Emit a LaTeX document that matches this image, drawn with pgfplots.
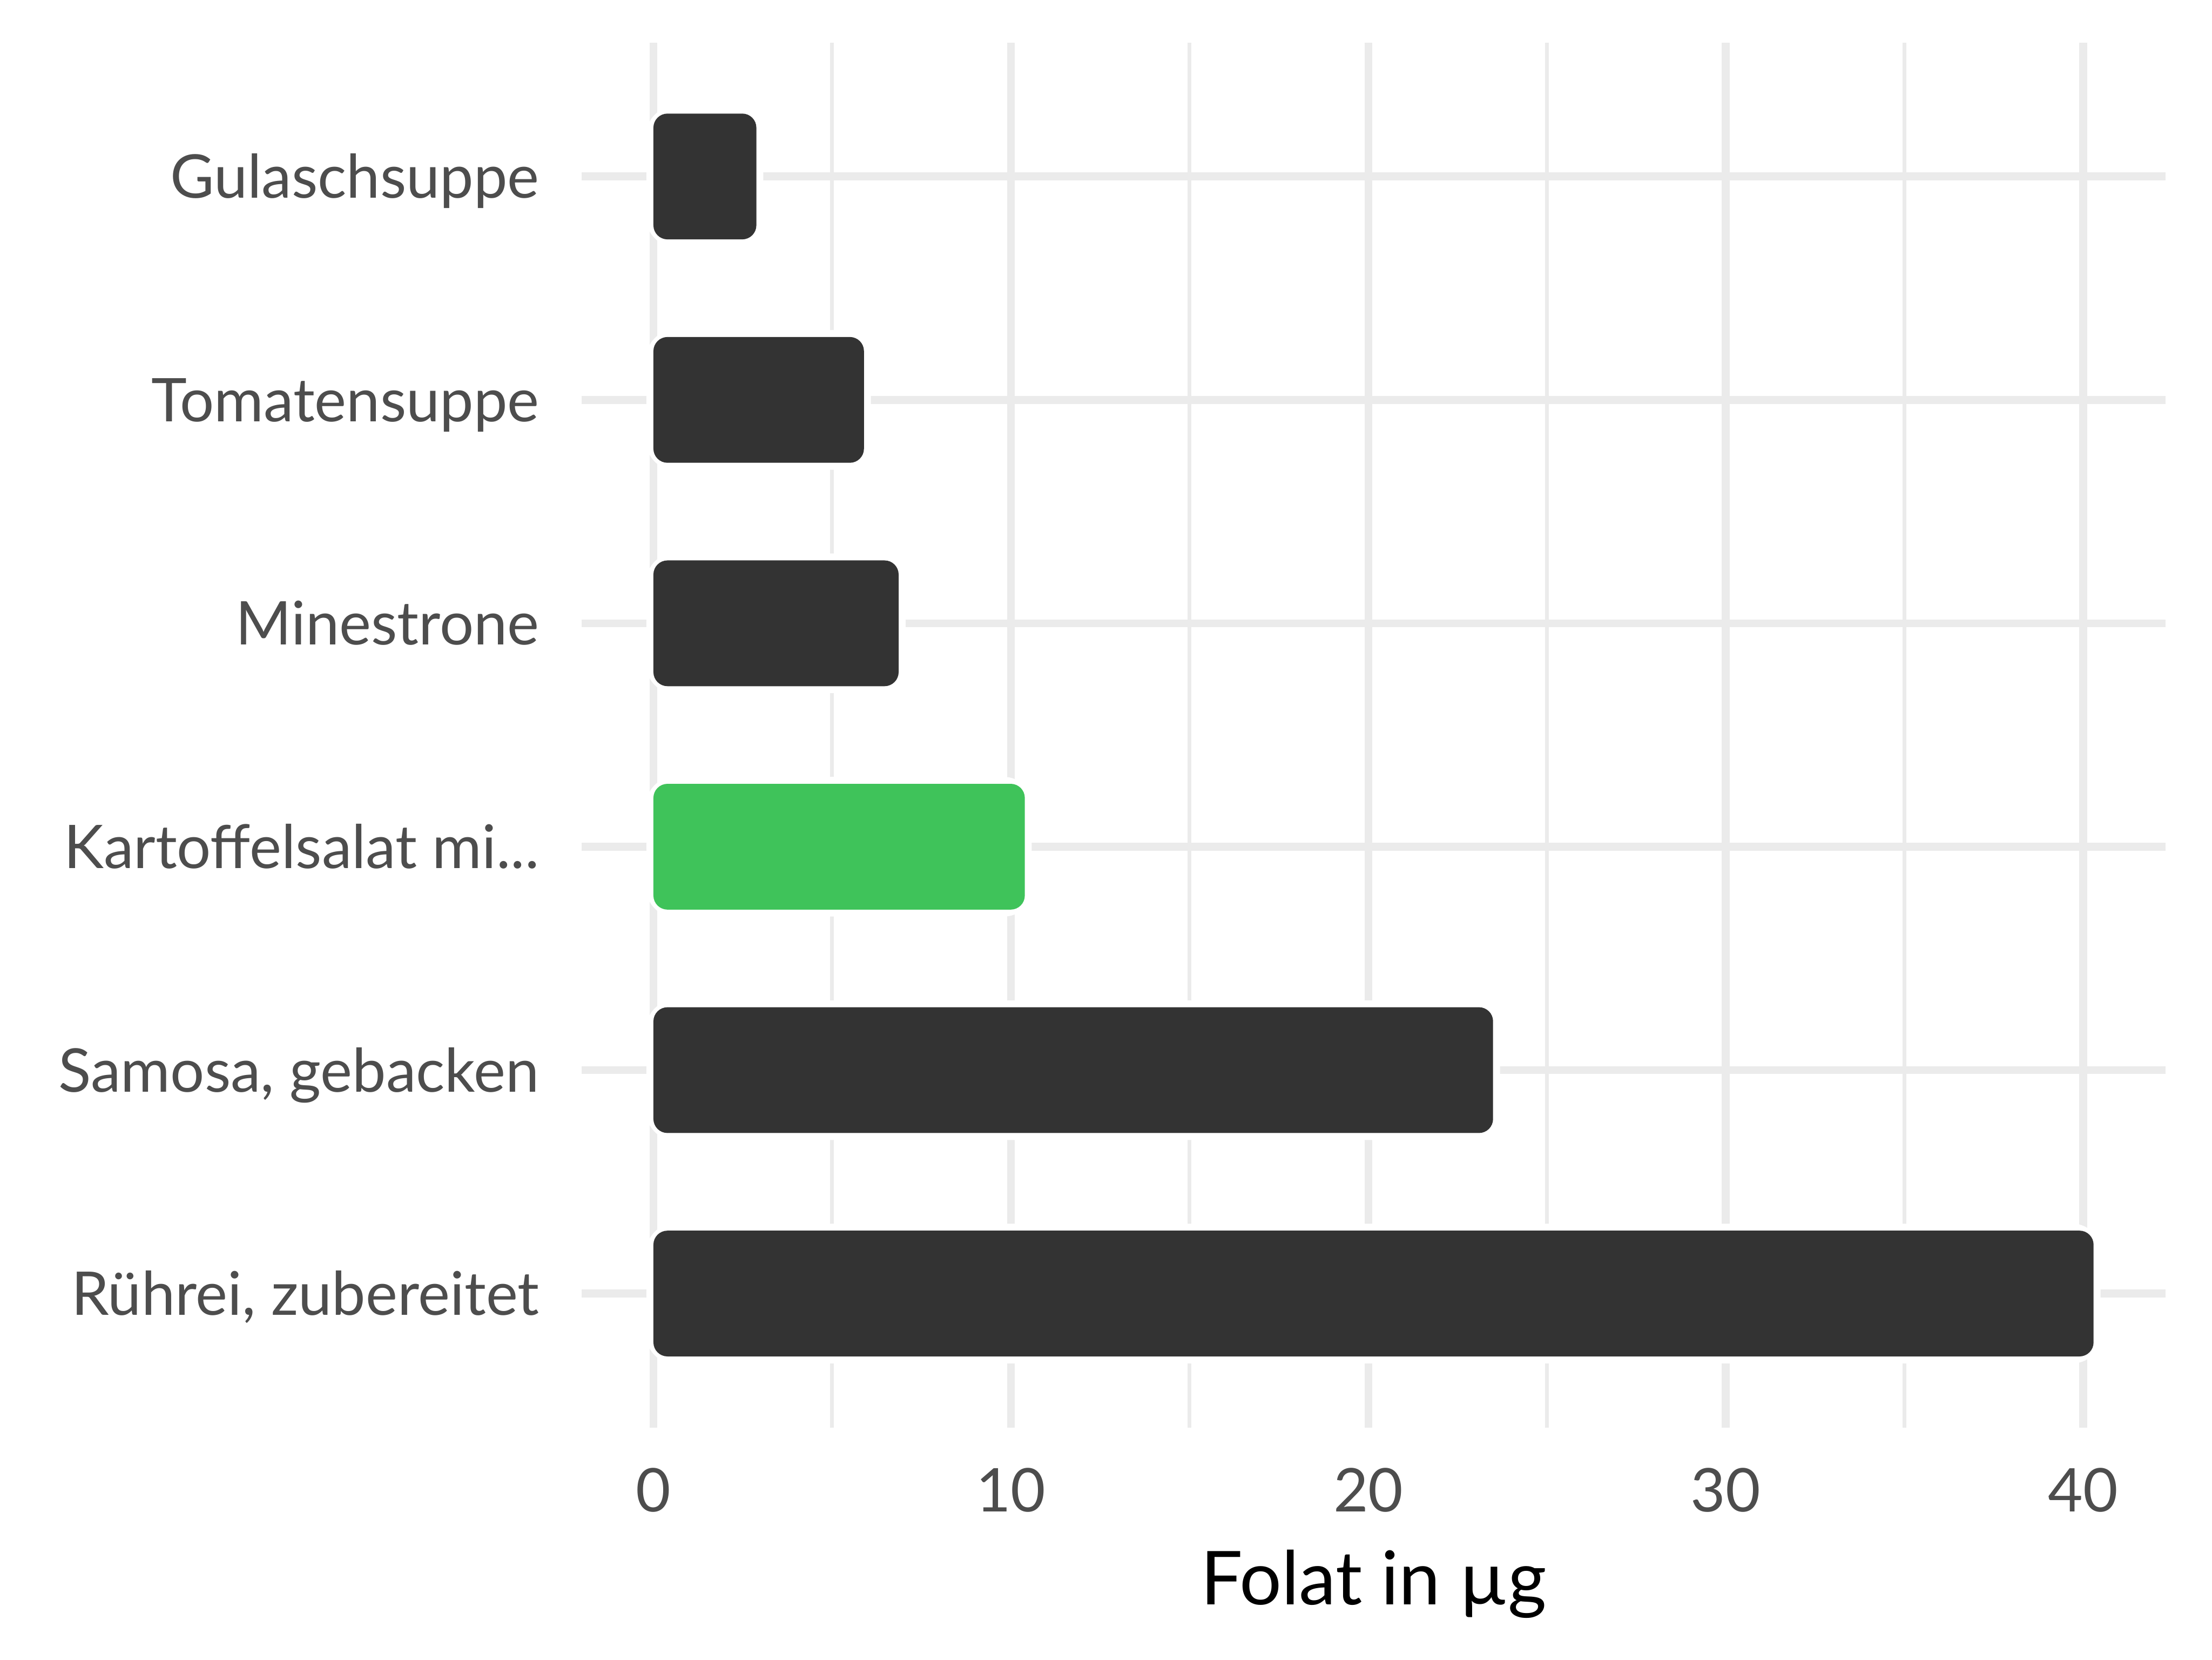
\documentclass[border=0pt]{standalone}
\usepackage{pgfplots}
\pgfplotsset{compat=1.18}
\usepackage{pgfplotstable}
\usepackage{fontspec}
\setmainfont{Lato}

\definecolor{bardark}{HTML}{333333}
\definecolor{bargreen}{HTML}{3FC35A}
\definecolor{gridgrey}{HTML}{EBEBEB}
\definecolor{labelgrey}{HTML}{4D4D4D}

\newcommand{\kartlabel}{Kartoffelsalat mi...}

% folate per food, rows counted from the bottom
\pgfplotstableread{
pos value
1 40.29
2 23.49
4 6.86
5 5.89
6 2.88
}\darkbars
\pgfplotstableread{
pos value
3 10.39
}\greenbars

\begin{document}
\begin{tikzpicture}
\begin{axis}[
    scale only axis,
    width=11.457cm, height=10.017cm,
    xmin=-2.01, xmax=42.30,
    ymin=0.4, ymax=6.6,
    axis line style={draw=none},
    tick style={draw=none},
    xtick={0,10,20,30,40},
    minor xtick={5,15,25,35},
    ytick={1,2,3,4,5,6},
    yticklabels={{Rührei, zubereitet},{Samosa, gebacken},\kartlabel,Minestrone,Tomatensuppe,Gulaschsuppe},
    xmajorgrids, xminorgrids, ymajorgrids,
    major grid style={gridgrey, line width=1.61pt},
    minor grid style={gridgrey, line width=0.76pt},
    /pgf/number format/assume math mode=true,
    tick label style={font=\fontsize{12.4}{14}\selectfont, text=labelgrey, inner sep=0pt},
    yticklabel style={anchor=east, xshift=-0.3cm, text height=8.9pt, text depth=0pt},
    xticklabel style={anchor=north, yshift=-0.287cm},
    xlabel={Folat in µg},
    xlabel style={font=\fontsize{15.3}{18}\selectfont, text=black,
        at={(rel axis cs:0.5,0)}, anchor=base, yshift=-1.28cm},
    every axis plot/.append style={xbar, bar width=0.563, bar shift=0pt},
]
% white halo under each bar
\addplot[fill=white, draw=white, line width=2.85pt, rounded corners=4.3pt]
    table[x=value, y=pos] {\darkbars};
\addplot[fill=white, draw=white, line width=2.85pt, rounded corners=4.3pt]
    table[x=value, y=pos] {\greenbars};
% the bars
\addplot[fill=bardark, draw=none, rounded corners=2.9pt]
    table[x=value, y=pos] {\darkbars};
\addplot[fill=bargreen, draw=none, rounded corners=2.9pt]
    table[x=value, y=pos] {\greenbars};
\coordinate (sw) at (rel axis cs:0,0);
\coordinate (ne) at (rel axis cs:1,1);
\end{axis}
\pgfresetboundingbox
\path ([shift={(-4.207cm,-1.677cm)}]sw) rectangle ([shift={(0.337cm,0.307cm)}]ne);
\end{tikzpicture}
\end{document}
